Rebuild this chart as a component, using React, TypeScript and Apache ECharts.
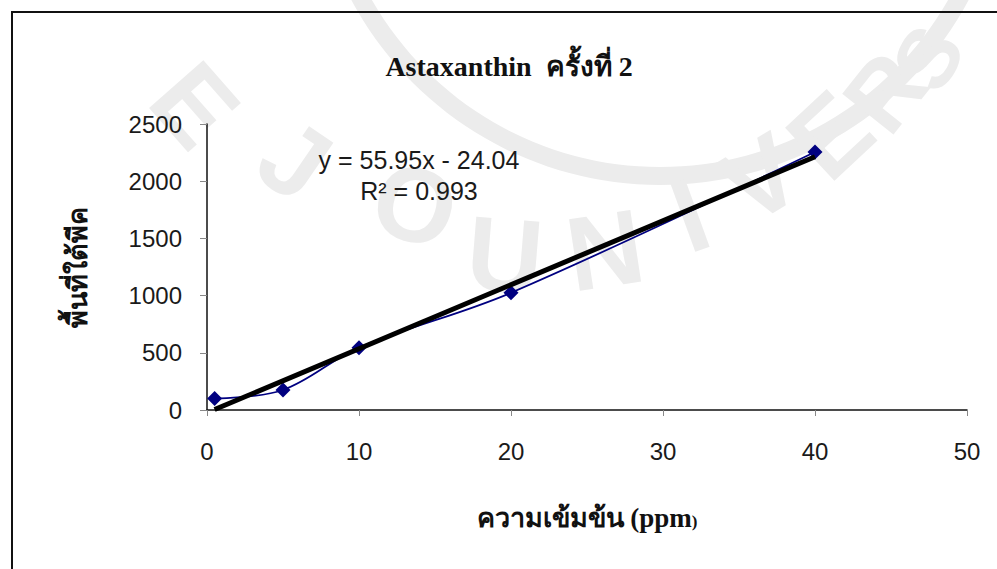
import React, { useEffect, useRef } from "react";
import * as echarts from "echarts";

const xValues = [0.5, 5, 10, 20, 40];
const yValues = [100, 175, 545, 1025, 2255];
const trendSlope = 55.95;
const trendIntercept = -24.04;
const trendRange = [0.5, 40];
const titleText = "Astaxanthin  ครั้งที่ 2";
const xTitle = "ความเข้มข้น (ppm";
const yTitle = "พื้นที่ใต้พีค";
const equationText = "y = 55.95x - 24.04";
const r2Text = "R² = 0.993";
const watermarkLetters = ["E", "J", "O", "U", "N", "I", "V", "E", "R", "S"];
const watermarkPos = [
  [195, 105, -0.85, 105],
  [295, 160, -0.6, 105],
  [415, 205, -0.3, 105],
  [505, 255, -0.08, 105],
  [605, 250, 0.15, 105],
  [690, 215, 0.35, 105],
  [760, 178, 0.55, 105],
  [830, 135, 0.75, 105],
  [885, 92, 0.9, 95],
  [928, 58, 1.05, 85],
];

const SANS = "Liberation Sans, Arial, sans-serif";
const SERIF = "Liberation Serif, Times New Roman, serif";

export default function App() {
  const ref = useRef<HTMLDivElement>(null);
  useEffect(() => {
    if (!ref.current) return;
    const chart = echarts.init(ref.current, null, { renderer: "svg" });
    const points = xValues.map((x, i) => [x, yValues[i]]);
    const trend = trendRange.map((x) => [x, trendSlope * x + trendIntercept]);
    const wm = watermarkLetters.map((ch, i) => ({
      type: "text",
      x: watermarkPos[i][0],
      y: watermarkPos[i][1],
      rotation: watermarkPos[i][2],
      z: -10,
      silent: true,
      style: {
        text: ch,
        fontSize: watermarkPos[i][3],
        fontWeight: "bold",
        fontFamily: SANS,
        fill: "#ececec",
        align: "center",
        verticalAlign: "middle",
      },
    }));
    chart.setOption({
      animation: false,
      backgroundColor: "#ffffff",
      grid: { left: 207, right: 30, top: 124, bottom: 159, containLabel: false },
      xAxis: {
        type: "value",
        min: 0,
        max: 50,
        interval: 10,
        axisLine: { show: true, onZero: false, lineStyle: { color: "#111", width: 1.5 } },
        axisTick: { show: true, length: 6, lineStyle: { color: "#888" } },
        axisLabel: {
          margin: 29,
          fontSize: 24,
          color: "#1a1a1a",
          fontFamily: SANS,
          formatter: (v: number) => String(v),
        },
        splitLine: { show: false },
      },
      yAxis: {
        type: "value",
        min: 0,
        max: 2500,
        interval: 500,
        axisLine: { show: true, lineStyle: { color: "#111", width: 1.5 } },
        axisTick: { show: true, length: 7, lineStyle: { color: "#888" } },
        axisLabel: {
          margin: 25,
          fontSize: 24,
          color: "#1a1a1a",
          fontFamily: SANS,
          formatter: (v: number) => String(v),
        },
        splitLine: { show: false },
      },
      graphic: [
        {
          type: "ring",
          z: -12,
          silent: true,
          shape: { cx: 660, cy: -165, r: 350, r0: 332 },
          style: { fill: "#ececec" },
        },
        ...wm,
        {
          type: "rect",
          shape: { x: 12, y: 12, width: 1000, height: 600 },
          style: { fill: "none", stroke: "#111", lineWidth: 2 },
          silent: true,
        },
        {
          type: "text",
          x: 509,
          y: 66,
          style: {
            text: titleText,
            fontSize: 28,
            fontWeight: "bold",
            fontFamily: SERIF,
            fill: "#111",
            align: "center",
            verticalAlign: "middle",
          },
        },
        {
          type: "text",
          x: 587,
          y: 518,
          style: {
            text: "{a|" + xTitle + "}{b|)}",
            align: "center",
            verticalAlign: "middle",
            rich: {
              a: {
                fontSize: 27,
                fontWeight: "bold",
                fontFamily: SERIF,
                fill: "#111",
              },
              b: {
                fontSize: 17,
                fontWeight: "bold",
                fontFamily: SERIF,
                fill: "#111",
                padding: [7, 0, 0, 0],
              },
            },
          },
        },
        {
          type: "text",
          x: 78,
          y: 267,
          rotation: Math.PI / 2,
          style: {
            text: yTitle,
            fontSize: 27,
            fontWeight: "bold",
            fontFamily: SERIF,
            fill: "#111",
            align: "center",
            verticalAlign: "middle",
          },
        },
        {
          type: "text",
          x: 419,
          y: 160,
          style: {
            text: equationText,
            fontSize: 25,
            fontFamily: SANS,
            fill: "#1a1a1a",
            align: "center",
            verticalAlign: "middle",
          },
        },
        {
          type: "text",
          x: 419,
          y: 191,
          style: {
            text: r2Text,
            fontSize: 25,
            fontFamily: SANS,
            fill: "#1a1a1a",
            align: "center",
            verticalAlign: "middle",
          },
        },
      ],
      series: [
        {
          type: "line",
          data: points,
          smooth: 0.35,
          symbol: "diamond",
          symbolSize: 15,
          lineStyle: { color: "#000080", width: 1.8 },
          itemStyle: { color: "#000080" },
          z: 3,
        },
        {
          type: "line",
          data: trend,
          symbol: "none",
          lineStyle: { color: "#000", width: 5 },
          z: 4,
        },
      ],
    });
    return () => chart.dispose();
  }, []);
  return (
    <div
      ref={ref}
      style={{ position: "absolute", left: 0, top: 0, width: 997, height: 569 }}
    />
  );
}
